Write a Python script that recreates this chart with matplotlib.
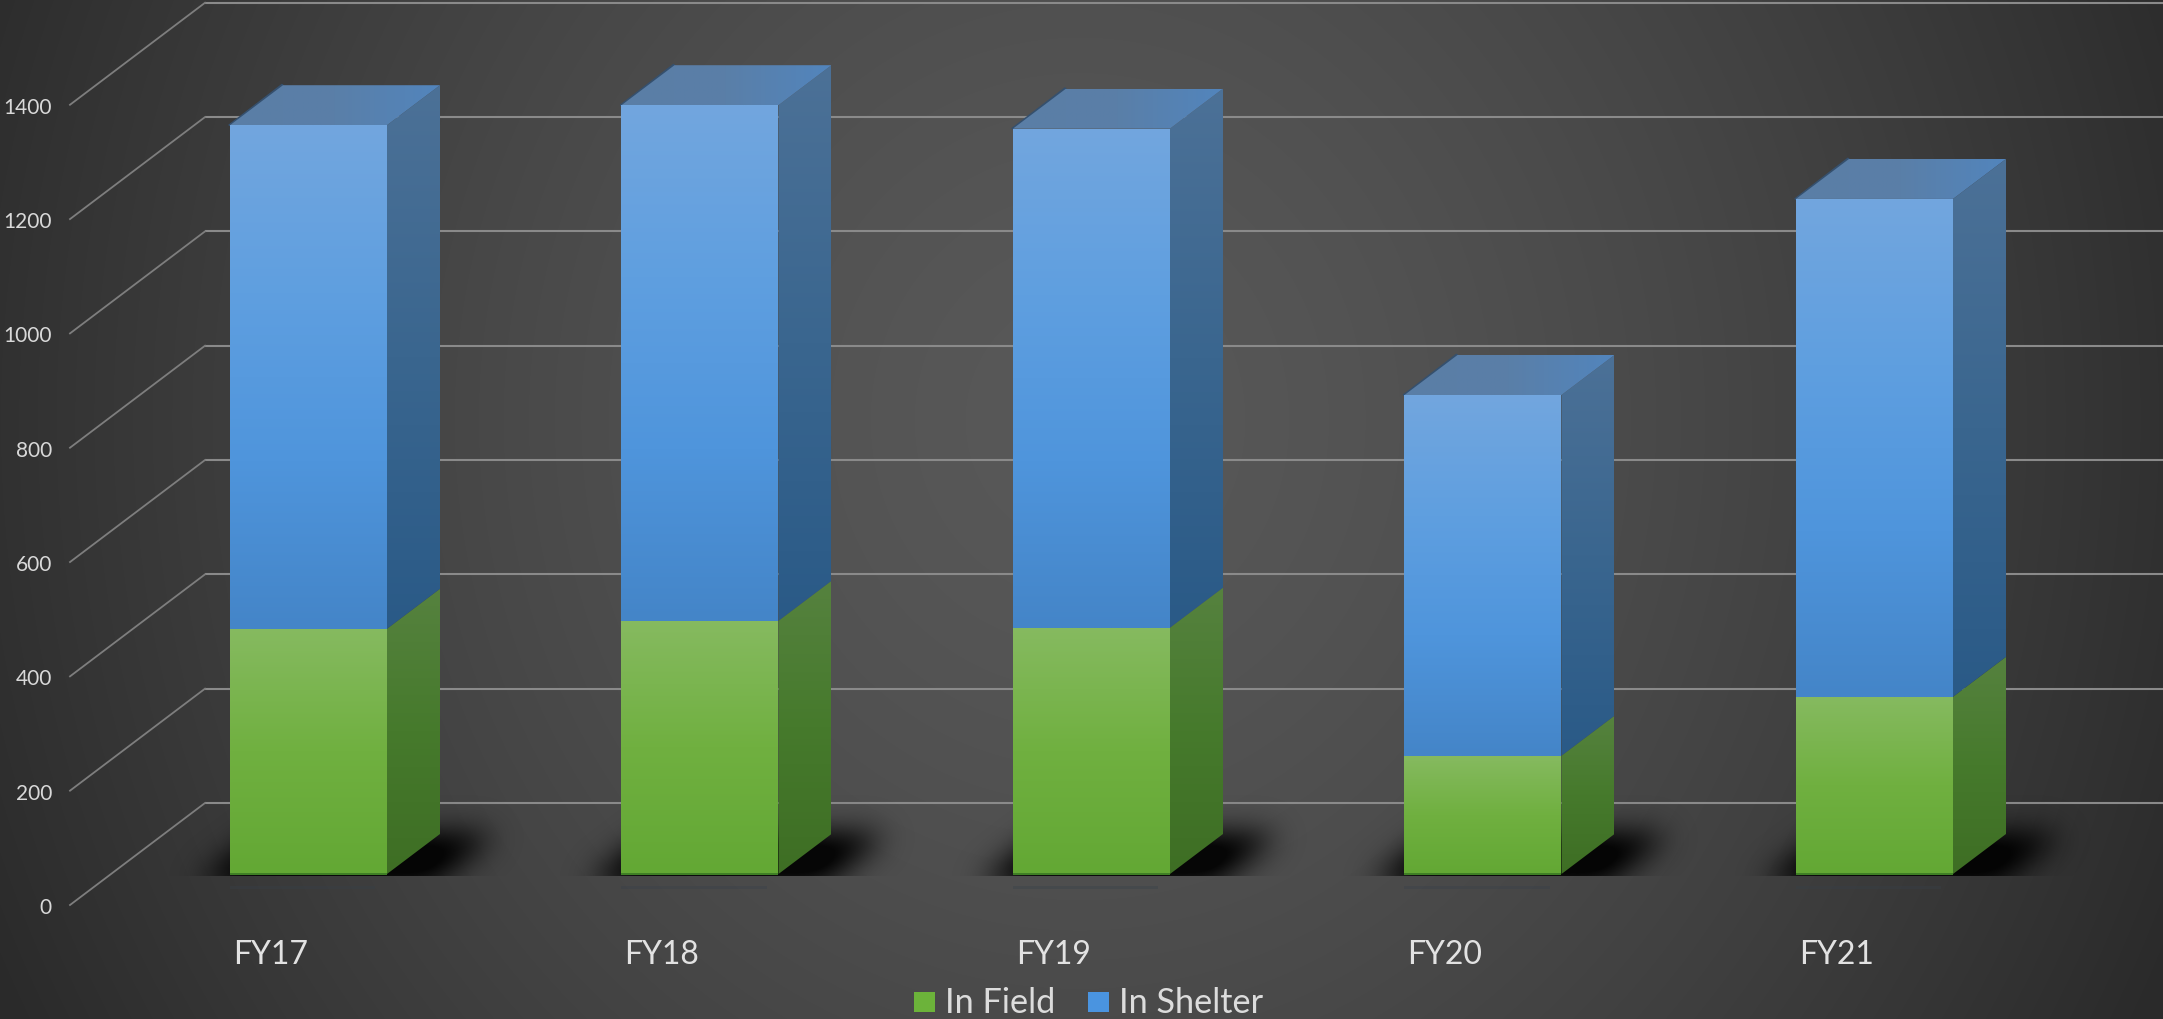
import numpy as np
import matplotlib
matplotlib.use("Agg")
import matplotlib.pyplot as plt
from matplotlib.patches import Polygon, Rectangle
from matplotlib.colors import LinearSegmentedColormap

years = ["FY17", "FY18", "FY19", "FY20", "FY21"]
in_field = [429, 443, 431, 207, 310]
in_shelter = [881, 902, 873, 631, 871]
y_ticks = [0, 200, 400, 600, 800, 1000, 1200, 1400]

W, H = 2163, 1019
# one axes over the whole figure: x in categories, y in chart units on the bar plane
PX_CAT = 391.5
PX_VAL = 0.5716
X0_PX = 308.5
Y0_PX = 874.0

BAR_W = 157 / PX_CAT
DEPTH_X = 53 / PX_CAT
DEPTH_Y = 40 / PX_VAL

plt.rcParams["font.family"] = ["Lato", "DejaVu Sans"]
fig = plt.figure(figsize=(W / 100, H / 100), dpi=100)
ax = fig.add_axes([0, 0, 1, 1])
xlim = (-X0_PX / PX_CAT, (W - X0_PX) / PX_CAT)
ylim = ((Y0_PX - H) / PX_VAL, Y0_PX / PX_VAL)
ax.axis("off")


def px_x(p):
    return (p - X0_PX) / PX_CAT


def px_y(p):
    return (Y0_PX - p) / PX_VAL


def gradient(poly, colors, horizontal=False, z=5):
    # fill a polygon with a linear gradient, imshow clipped to the polygon
    poly = np.array(poly)
    cmap = LinearSegmentedColormap.from_list("g", colors)
    ramp = np.linspace(0, 1, 256)
    ramp = ramp.reshape(1, -1) if horizontal else ramp.reshape(-1, 1)
    im = ax.imshow(ramp, cmap=cmap, aspect="auto", zorder=z, vmin=0, vmax=1,
                   interpolation="bilinear",
                   extent=(poly[:, 0].min(), poly[:, 0].max(), poly[:, 1].min(), poly[:, 1].max()))
    patch = Polygon(poly, closed=True, transform=ax.transData, fc="none", ec="none")
    ax.add_patch(patch)
    im.set_clip_path(patch)


# background
yy, xx = np.mgrid[0:H, 0:W]
r = np.sqrt(((xx - 1080) / 1200.0) ** 2 + ((yy - 420) / 1300.0) ** 2)
bg = 0x59 - (0x59 - 0x2b) * np.clip(r, 0, 1) ** 1.5
ax.imshow(bg, cmap="gray", vmin=0, vmax=255, aspect="auto", zorder=0,
          extent=(xlim[0], xlim[1], ylim[0], ylim[1]))

# walls: back line and side line for every tick
BACK_X = px_x(205)
FRONT_X = px_x(70)
BACK_DV = (Y0_PX - 803) / PX_VAL
FRONT_DV = (Y0_PX - 905) / PX_VAL
for v in y_ticks:
    ax.plot([BACK_X, xlim[1]], [v + BACK_DV, v + BACK_DV], color="#8a8a8a", lw=1.5, zorder=1,
            solid_capstyle="butt")
    ax.plot([FRONT_X, BACK_X], [v + FRONT_DV, v + BACK_DV], color="#7e7e7e", lw=1.3, zorder=1)
    ax.text(px_x(52), v + FRONT_DV - 3 / PX_VAL, str(v), color="#d9d9d9", fontsize=15, ha="right", va="center",
            zorder=8)


# soft shadow on the floor behind every bar
def shadow(i):
    left = X0_PX + PX_CAT * i - BAR_W * PX_CAT / 2
    x0, y0 = left - 100, Y0_PX - 110
    nx, ny = 480, 120
    gy, gx = np.mgrid[0:ny, 0:nx]
    gx = gx + x0
    gy = gy + y0
    t = (Y0_PX + 10 - gy) / 50.0
    lo = left - 35 + t * 65
    hi = left + 200 + t * 65
    mask = ((gx > lo) & (gx < hi) & (t <= 1.0) & (t >= 0)).astype(float)
    k = np.exp(-0.5 * (np.arange(-45, 46) / 15.0) ** 2)
    k = k / k.sum()
    mask = np.apply_along_axis(lambda m: np.convolve(m, k, mode="same"), 0, mask)
    mask = np.apply_along_axis(lambda m: np.convolve(m, k, mode="same"), 1, mask)
    mask[gy > Y0_PX + 1] = 0
    rgba = np.zeros((ny, nx, 4))
    rgba[..., 3] = np.clip(mask * 1.2, 0, 0.92)
    ax.imshow(rgba, aspect="auto", zorder=2, interpolation="bilinear",
              extent=(px_x(x0), px_x(x0 + nx), px_y(y0 + ny), px_y(y0)))


FRONT_BLUE = ["#72a6de", "#5f9fe0", "#4f95dc", "#4485c8"]
SIDE_BLUE = ["#4c7197", "#3a668f", "#2a5a87"]
FRONT_GREEN = ["#86ba60", "#70b040", "#63a834"]
SIDE_GREEN = ["#56823f", "#467a2c", "#3e6e24"]

for i, year in enumerate(years):
    shadow(i)
    l = i - BAR_W / 2
    rt = i + BAR_W / 2
    f = in_field[i]
    t = f + in_shelter[i]

    # green segment
    gradient([(rt, 0), (rt + DEPTH_X, DEPTH_Y), (rt + DEPTH_X, f + DEPTH_Y), (rt, f)], SIDE_GREEN, z=4)
    gradient([(l, 0), (rt, 0), (rt, f), (l, f)], FRONT_GREEN, z=5)
    ax.add_patch(Rectangle((l, -2), BAR_W, 4, fc="#3f7f25", ec="none", zorder=6))

    # blue segment
    gradient([(rt, f), (rt + DEPTH_X, f + DEPTH_Y), (rt + DEPTH_X, t + DEPTH_Y), (rt, t)], SIDE_BLUE, z=4)
    gradient([(l, f), (rt, f), (rt, t), (l, t)], FRONT_BLUE, z=5)

    # top face, dark rim along the left edge
    top = [(l, t), (rt, t), (rt + DEPTH_X, t + DEPTH_Y), (l + DEPTH_X, t + DEPTH_Y)]
    ax.add_patch(Polygon([(l - 0.003, t), (l + DEPTH_X - 0.003, t + DEPTH_Y + 1), (l + DEPTH_X, t + DEPTH_Y), (l, t)],
                         closed=True, fc="#35506e", ec="#35506e", lw=1, zorder=4))
    gradient(top, ["#5a7ea6", "#5a7fa8", "#5285bd"], horizontal=True, z=5)

    # faint reflection under the bar
    ax.add_patch(Rectangle((l, px_y(889)), BAR_W - 0.03, 3 / PX_VAL, fc="#37404a", ec="none", alpha=0.35, zorder=3))

    ax.text(l + 3 / PX_CAT, px_y(955), year, color="#e2e2e2", fontsize=23, ha="left", va="center", zorder=8)

# legend
ax.add_patch(Rectangle((px_x(914), px_y(1012)), 21 / PX_CAT, 20 / PX_VAL, fc="#6cb33a", ec="none", zorder=8))
ax.add_patch(Rectangle((px_x(1088), px_y(1012)), 21 / PX_CAT, 20 / PX_VAL, fc="#4a94e0", ec="none", zorder=8))
ax.text(px_x(945), px_y(1003), "In Field", color="#dcdcdc", fontsize=24.7, ha="left", va="center", zorder=8)
ax.text(px_x(1119), px_y(1003), "In Shelter", color="#dcdcdc", fontsize=24.7, ha="left", va="center", zorder=8)

ax.set_xlim(*xlim)
ax.set_ylim(*ylim)
fig.savefig("out.png", dpi=100)
